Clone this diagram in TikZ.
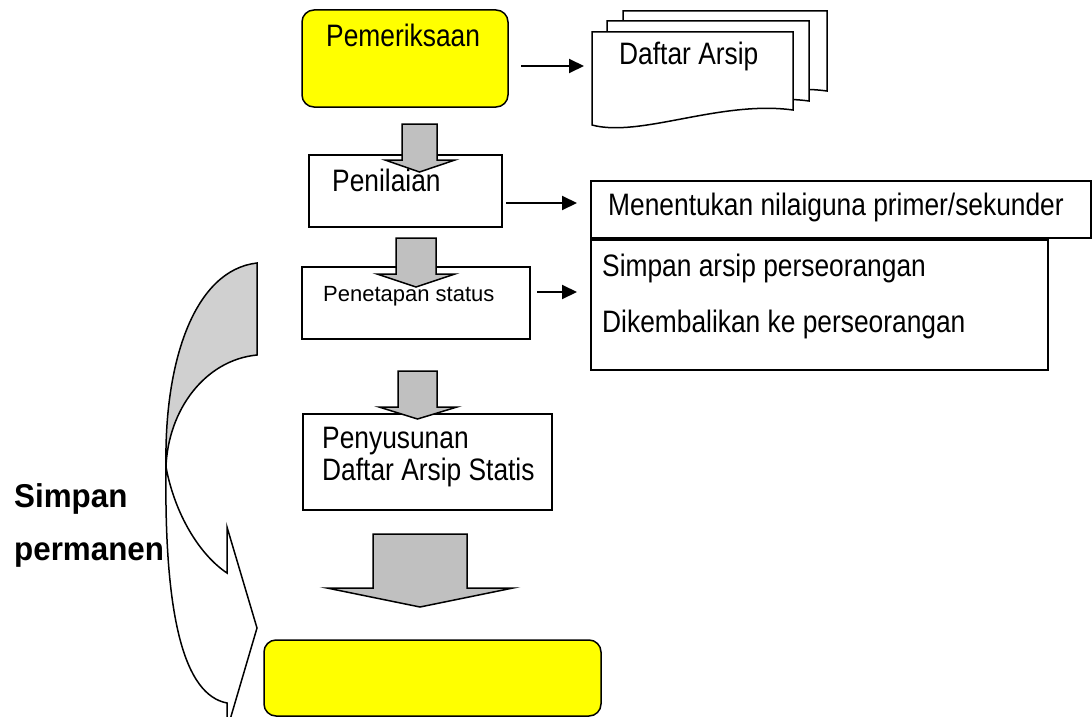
\documentclass[tikz,border=0pt]{standalone}
\usepackage{fontspec}
\setmainfont{Liberation Sans}
\newfontfamily\myNarrow{Liberation Sans}[FakeStretch=0.85]
\newfontfamily\myBoldfam{Liberation Sans}[FakeStretch=0.95]
\usetikzlibrary{arrows.meta}
\definecolor{ylw}{RGB}{255,255,0}
\definecolor{bgray}{RGB}{192,192,192}
\definecolor{cgray}{RGB}{208,208,208}
\tikzset{
  ln/.style={line width=1.5pt, line join=miter},
  boxn/.style={ln, draw=black, fill=white, rectangle, inner sep=0pt, outer sep=0pt, anchor=north west},
  ybox/.style={boxn, fill=ylw, rounded corners=12pt},
  txt/.style={inner sep=0pt, anchor=base west, font=\myNarrow\fontsize{31}{37}\selectfont},
  stxt/.style={inner sep=0pt, anchor=base west, font=\fontsize{22}{26}\selectfont},
  btxt/.style={inner sep=0pt, anchor=base west, font=\myBoldfam\bfseries\fontsize{33}{40}\selectfont},
  conn/.style={line width=2pt, -{Triangle[length=15pt,width=14pt]}},
  barrow/.style={ln, draw=black, fill=bgray},
  page/.style={ln, draw=black, fill=white}
}
\newcommand\myblockarrow[7]{% left right top head wl wr tipy ; tip x = center
  \draw[barrow] (#1,#3) -- (#1,#4) -- (#5,#4) -- ({(#1+#2)/2},#7) -- (#6,#4) -- (#2,#4) -- (#2,#3) -- cycle;}
\newcommand\mypage[4]{% L R T B
  \draw[page] (#1,#3) -- (#2,#3) -- (#2,#4) .. controls ({#2-73},{#4-10}) and ({#1+48},{#4+28}) .. (#1,{#4+15}) -- cycle;}
\begin{document}
\begin{tikzpicture}[x=1pt,y=-1pt]
\useasboundingbox (0,0) rectangle (1092,717);
% boxes
\node[ybox, minimum width=206pt, minimum height=97pt] (pem) at (302,10) {};
\node[boxn, minimum width=193pt, minimum height=72pt] (pen) at (309,155) {};
\node[boxn, minimum width=500pt, minimum height=57pt] (men) at (591,181) {};
\node[boxn, minimum width=457pt, minimum height=130pt] (sim) at (591,240) {};
\node[boxn, minimum width=228pt, minimum height=72pt] (pet) at (302,267) {};
\node[boxn, minimum width=249pt, minimum height=96pt] (pny) at (303,414) {};
\node[ybox, minimum width=337pt, minimum height=76pt] (fin) at (264,640) {};
% multi document
\mypage{623}{827}{11}{91}
\mypage{607}{809}{21}{101}
\mypage{592}{793}{32}{110}
% texts
\node[txt] (tpem) at (326,47) {Pemeriksaan};
\node[txt] (tdaf) at (619,65) {Daftar Arsip};
\node[txt] (tpen) at (332,191) {Penilaian};
\node[txt] (tmen) at (608,215) {Menentukan nilaiguna primer/sekunder};
\node[txt] (tsim) at (602,276) {Simpan arsip perseorangan};
\node[txt] (tdik) at (602,332) {Dikembalikan ke perseorangan};
\node[stxt] (tpet) at (323,301) {Penetapan status};
\node[txt] (tpny1) at (322,448) {Penyusunan};
\node[txt] (tpny2) at (322,480) {Daftar Arsip Statis};
\node[btxt] (tsp1) at (14,507) {Simpan};
\node[btxt] (tsp2) at (14,560) {permanen};
% block arrows
\myblockarrow{402}{437}{124}{160}{385}{455}{172}
\myblockarrow{396}{436}{238}{274}{377}{455}{287}
\myblockarrow{398}{437}{371}{407}{379}{457}{419}
\myblockarrow{373}{467}{534}{588}{327}{513}{607}
% connectors
\coordinate (a1s) at (521,66); \coordinate (a1e) at (584,66);
\coordinate (a2s) at (506,203); \coordinate (a2e) at (577,203);
\coordinate (a3s) at (537,292); \coordinate (a3e) at (577,292);
\draw[conn] (a1s) -- (a1e);
\draw[conn] (a2s) -- (a2e);
\draw[conn] (a3s) -- (a3e);
% curved arrow
\draw[ln, fill=cgray] (257,263) .. controls (195,270) and (164,360) .. (166,467)
  .. controls (168,410) and (205,360) .. (257,355) -- cycle;
\draw[ln, fill=white] (166,467) .. controls (175,515) and (200,555) .. (227,573)
  -- (227,527) -- (257,628) -- (227,730) -- (227,703)
  .. controls (185,695) and (164,620) .. (166,467) -- cycle;
\end{tikzpicture}
\end{document}
